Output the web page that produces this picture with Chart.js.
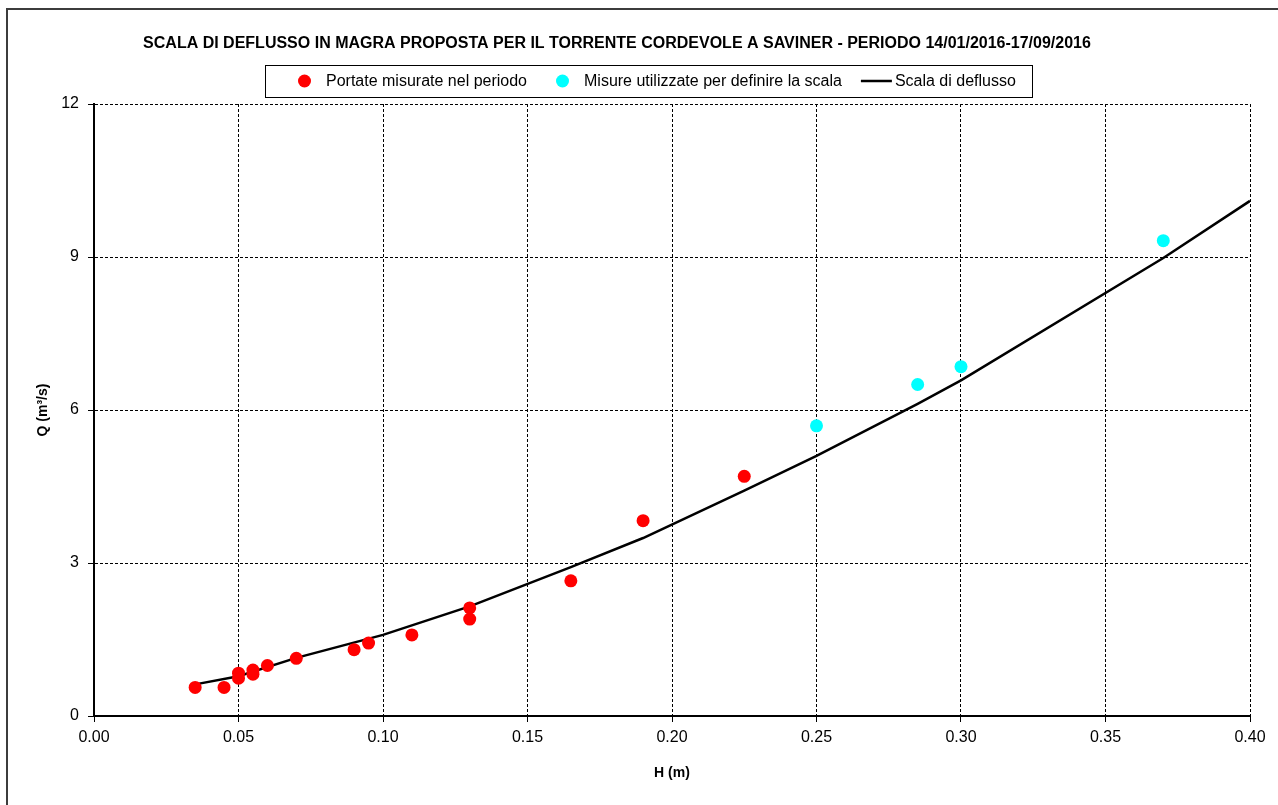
<!DOCTYPE html>
<html>
<head>
<meta charset="utf-8">
<script src="https://cdn.jsdelivr.net/npm/chart.js@4.4.1/dist/chart.umd.min.js"></script>
<style>
  html, body { margin: 0; padding: 0; background: #fff; overflow: hidden; }
  #frame { position: absolute; left: 6px; top: 8px; width: 1300px; height: 820px; border: 2px solid #3c3c3c; }
  #wrap { position: absolute; left: 0; top: 0; width: 1278px; height: 805px; }
</style>
</head>
<body>
<div id="frame"></div>
<div id="wrap"><canvas id="chart" width="1278" height="805"></canvas></div>
<script>
const titleText = 'SCALA DI DEFLUSSO IN MAGRA PROPOSTA PER IL TORRENTE CORDEVOLE A SAVINER - PERIODO 14/01/2016-17/09/2016';

// portate misurate (H in m, Q in m3/s)
const measuredH = [0.035, 0.045, 0.05, 0.05, 0.055, 0.055, 0.06, 0.07, 0.09, 0.095, 0.11, 0.13, 0.13, 0.165, 0.19, 0.225];
const measuredQ = [0.56, 0.56, 0.84, 0.74, 0.90, 0.82, 0.99, 1.13, 1.30, 1.43, 1.59, 2.12, 1.90, 2.65, 3.83, 4.70];

// misure usate per la taratura
const fitH = [0.25, 0.285, 0.30, 0.37];
const fitQ = [5.69, 6.50, 6.85, 9.32];

// scala di deflusso
const curveH = [0.035, 0.05, 0.07, 0.10, 0.13, 0.165, 0.19, 0.225, 0.25, 0.285, 0.30, 0.37, 0.40];
const curveQ = [0.62, 0.78, 1.14, 1.59, 2.15, 2.92, 3.49, 4.42, 5.10, 6.12, 6.58, 8.98, 10.10];

const toPoints = (xs, ys) => xs.map((x, i) => ({ x: x, y: ys[i] }));

const FONT = '"Liberation Sans", Arial, sans-serif';

// titolo e legenda disegnati a mano (riquadro con bordo)
const headerPlugin = {
  id: 'header',
  afterDraw(chart) {
    const ctx = chart.ctx;
    ctx.save();
    ctx.fillStyle = '#000';
    ctx.font = 'bold 16px ' + FONT;
    ctx.textAlign = 'center';
    ctx.textBaseline = 'middle';
    ctx.fillText(titleText, 617, 44);

    ctx.font = '16px ' + FONT;
    const items = chart.data.datasets.map(ds => ({ ds: ds, isLine: !!ds.showLine }));
    const leftPad = 33, rightPad = 16;
    const markerW = it => it.isLine ? 31 : 13;
    const textGap = it => it.isLine ? 3 : 15;
    const gapBefore = it => it.isLine ? 19 : 29;
    let total = leftPad + rightPad;
    items.forEach((it, i) => {
      it.tw = ctx.measureText(it.ds.label).width;
      total += markerW(it) + textGap(it) + it.tw + (i > 0 ? gapBefore(it) : 0);
    });
    const boxL = Math.round(648 - total / 2), boxT = 65, boxH = 32;
    const cy = boxT + boxH / 2;
    ctx.strokeStyle = '#000';
    ctx.lineWidth = 1;
    ctx.strokeRect(boxL + 0.5, boxT + 0.5, Math.round(total), boxH);

    let x = boxL + leftPad;
    ctx.textAlign = 'left';
    items.forEach((it, i) => {
      if (i > 0) x += gapBefore(it);
      if (it.isLine) {
        ctx.beginPath();
        ctx.moveTo(x, cy);
        ctx.lineTo(x + markerW(it), cy);
        ctx.strokeStyle = it.ds.borderColor;
        ctx.lineWidth = it.ds.borderWidth;
        ctx.stroke();
      } else {
        ctx.beginPath();
        ctx.arc(x + 6.5, cy, 6.5, 0, Math.PI * 2);
        ctx.fillStyle = it.ds.backgroundColor;
        ctx.fill();
      }
      x += markerW(it) + textGap(it);
      ctx.fillStyle = '#000';
      ctx.fillText(it.ds.label, x, cy + 1);
      x += it.tw;
    });
    ctx.restore();
  }
};

const gridStyle = {
  color: '#000',
  lineWidth: 1,
  tickLength: 6,
  tickColor: '#000',
  tickWidth: 1,
  tickBorderDash: []
};

// asse pieno, griglia tratteggiata (in v4 il tratteggio della griglia sta in border.dash)
const borderStyle = { display: true, color: '#000', width: 2, dash: [3, 2] };

new Chart(document.getElementById('chart'), {
  type: 'scatter',
  data: {
    datasets: [
      {
        label: 'Portate misurate nel periodo',
        data: toPoints(measuredH, measuredQ),
        backgroundColor: '#ff0000',
        borderColor: '#ff0000',
        pointRadius: 6.5,
        pointBorderWidth: 0
      },
      {
        label: 'Misure utilizzate per definire la scala',
        data: toPoints(fitH, fitQ),
        backgroundColor: '#00ffff',
        borderColor: '#00ffff',
        pointRadius: 6.5,
        pointBorderWidth: 0
      },
      {
        label: 'Scala di deflusso',
        data: toPoints(curveH, curveQ),
        showLine: true,
        borderColor: '#000',
        backgroundColor: '#000',
        borderWidth: 2.5,
        pointRadius: 0,
        tension: 0
      }
    ]
  },
  options: {
    responsive: false,
    animation: false,
    devicePixelRatio: 1,
    layout: { padding: { left: 0, top: 104, right: 28, bottom: 0 } },
    plugins: {
      legend: { display: false },
      title: { display: false },
      tooltip: { enabled: false }
    },
    scales: {
      x: {
        type: 'linear',
        min: 0,
        max: 0.4,
        afterFit: s => { s.height = 89; },
        border: borderStyle,
        grid: gridStyle,
        ticks: {
          stepSize: 0.05,
          padding: 6,
          color: '#000',
          font: { family: FONT, size: 16 },
          maxRotation: 0,
          callback: v => v.toFixed(2)
        },
        title: {
          display: true,
          text: 'H (m)',
          color: '#000',
          font: { family: FONT, size: 14, weight: 'bold' },
          padding: { top: 0, bottom: 23 }
        }
      },
      y: {
        type: 'linear',
        min: 0,
        max: 12,
        afterFit: s => { s.width = 94; },
        border: borderStyle,
        grid: gridStyle,
        ticks: {
          stepSize: 3,
          padding: 9,
          color: '#000',
          font: { family: FONT, size: 16 }
        },
        title: {
          display: true,
          text: 'Q (m³/s)',
          color: '#000',
          font: { family: FONT, size: 14, weight: 'bold' },
          padding: { top: 35, bottom: 0 }
        }
      }
    }
  },
  plugins: [headerPlugin]
});
</script>
</body>
</html>
